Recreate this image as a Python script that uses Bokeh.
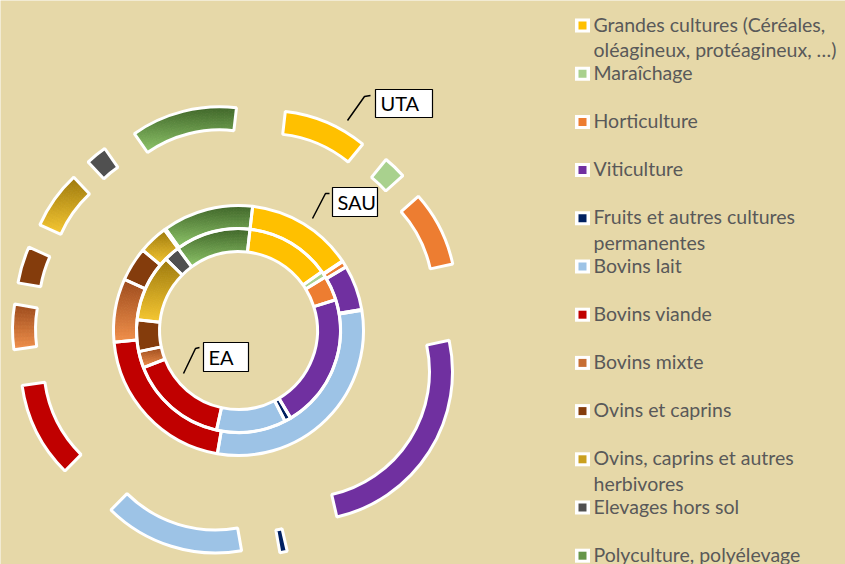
import numpy as np
from bokeh.plotting import figure
from bokeh.models import ColumnDataSource
from bokeh.core.properties import value
from bokeh.embed import file_html
from bokeh.resources import INLINE

# ---------------- data ----------------
categories = [
    "Grandes cultures (Céréales, oléagineux, protéagineux, …)",
    "Maraîchage",
    "Horticulture",
    "Viticulture",
    "Fruits et autres cultures permanentes",
    "Bovins lait",
    "Bovins viande",
    "Bovins mixte",
    "Ovins et caprins",
    "Ovins, caprins et autres herbivores",
    "Elevages hors sol",
    "Polyculture, polyélevage",
]
legend_lines = [
    ["Grandes cultures (Céréales,", "oléagineux, protéagineux, …)"],
    ["Maraîchage"],
    ["Horticulture"],
    ["Viticulture"],
    ["Fruits et autres cultures", "permanentes"],
    ["Bovins lait"],
    ["Bovins viande"],
    ["Bovins mixte"],
    ["Ovins et caprins"],
    ["Ovins, caprins et autres", "herbivores"],
    ["Elevages hors sol"],
    ["Polyculture, polyélevage"],
]
# shares (%), inner ring -> outer ring
ea = [13.4, 1.0, 3.9, 21.3, 1.0, 11.0, 15.6, 2.6, 5.0, 10.7, 2.5, 11.9]
sau = [13.8, 0.1, 0.8, 5.8, 0.1, 30.3, 20.8, 8.2, 4.4, 3.8, 0.2, 11.7]
uta = [9.1, 2.5, 8.2, 24.8, 0.8, 15.2, 10.4, 4.9, 4.0, 6.3, 2.3, 11.5]
ring_names = ["EA", "SAU", "UTA"]

colors = ["#FFC000", "#A9D18E", "#ED7D31", "#7030A0", "#002060", "#9DC3E6",
          "#C00000", "#C8642A", "#843C0C", "#CC9E1C", "#505050", "#5E8F40"]
# vertical gradients (top colour, bottom colour)
gradients = {
    7: ("#9C4A1C", "#F2914C"),
    9: ("#9C780C", "#F7C832"),
    11: ("#3F6629", "#8EC66A"),
}

# ---------------- layout ----------------
W, H = 845, 564
BG = "#E6D8A8"
CX, CY = 238.0, H - 330.0
FIRST_ANGLE = 6.5
ring_geom = [(79, 102, 0.0), (102, 125, 0.0), (126, 149, 77.0)]
label_boxes = [  # ring label boxes in image pixels: left, top, right, bottom
    (203, 342, 248, 371),
    (332, 187, 377, 216),
    (375, 89, 432, 117),
]
label_leaders = [
    [(183, 373), (195, 348), (199, 347)],
    [(312, 218), (325, 193), (329, 193)],
    [(347, 120), (364, 96), (370, 95)],
]


def hex2rgb(h):
    h = h.lstrip("#")
    return np.array([int(h[i:i + 2], 16) for i in (0, 2, 4)], dtype=float)


def lerp_color(c1, c2, t):
    a, b = hex2rgb(c1), hex2rgb(c2)
    c = a + (b - a) * min(max(t, 0.0), 1.0)
    return "#%02x%02x%02x" % tuple(int(round(v)) for v in c)


p = figure(width=W, height=H, x_range=(0, W), y_range=(0, H),
           output_backend="svg", toolbar_location=None,
           x_axis_location=None, y_axis_location=None, min_border=0,
           background_fill_color=BG, border_fill_color=BG,
           outline_line_color=None)
p.grid.visible = False

fill = dict(x=[], y=[], ri=[], ro=[], sa=[], ea=[], c=[])
outl = dict(x=[], y=[], ri=[], ro=[], sa=[], ea=[])

for vals, (r_in, r_out, d) in zip([ea, sau, uta], ring_geom):
    v = np.array(vals, dtype=float)
    cum = np.concatenate([[0], np.cumsum(v / v.sum())])
    for i in range(len(v)):
        t1 = FIRST_ANGLE + 360 * cum[i]
        t2 = FIRST_ANGLE + 360 * cum[i + 1]
        mid = np.radians((t1 + t2) / 2)
        ox = CX + d * np.sin(mid)
        oy = CY + d * np.cos(mid)
        outl["x"].append(ox); outl["y"].append(oy)
        outl["ri"].append(r_in); outl["ro"].append(r_out)
        outl["sa"].append(np.radians(90 - t2)); outl["ea"].append(np.radians(90 - t1))
        if i in gradients:
            top, bot = gradients[i]
            th = np.radians(np.linspace(t1, t2, 60))
            ys = np.concatenate([oy + r_in * np.cos(th), oy + r_out * np.cos(th)])
            ymax, ymin = ys.max(), ys.min()
            na = max(2, int((t2 - t1) / 1.5))
            nr = 8
            ab = np.linspace(t1, t2, na + 1)
            rb = np.linspace(r_in, r_out, nr + 1)
            for j in range(na):
                for k in range(nr):
                    tc = np.radians((ab[j] + ab[j + 1]) / 2)
                    rc = (rb[k] + rb[k + 1]) / 2
                    yc = oy + rc * np.cos(tc)
                    t = (ymax - yc) / (ymax - ymin)
                    fill["x"].append(ox); fill["y"].append(oy)
                    fill["ri"].append(rb[k]); fill["ro"].append(rb[k + 1])
                    fill["sa"].append(np.radians(90 - ab[j + 1]))
                    fill["ea"].append(np.radians(90 - ab[j]))
                    fill["c"].append(lerp_color(top, bot, t))
        else:
            fill["x"].append(ox); fill["y"].append(oy)
            fill["ri"].append(r_in); fill["ro"].append(r_out)
            fill["sa"].append(np.radians(90 - t2)); fill["ea"].append(np.radians(90 - t1))
            fill["c"].append(colors[i])

p.annular_wedge(x="x", y="y", inner_radius="ri", outer_radius="ro",
                start_angle="sa", end_angle="ea", fill_color="c",
                line_color="c", line_width=0.7, source=ColumnDataSource(fill))
p.annular_wedge(x="x", y="y", inner_radius="ri", outer_radius="ro",
                start_angle="sa", end_angle="ea", fill_color=None,
                line_color="white", line_width=3, source=ColumnDataSource(outl))

# ring labels
lb = label_boxes
p.quad(left=[b[0] for b in lb], right=[b[2] for b in lb],
       top=[H - b[1] for b in lb], bottom=[H - b[3] for b in lb],
       fill_color="white", line_color="black", line_width=1.2)
p.text(x=[b[0] + 5 for b in lb], y=[H - (b[1] + b[3]) / 2 + 0.5 for b in lb],
       text=ring_names, text_font=value("Lato"), text_font_size="20px",
       text_color="black", text_baseline="middle", text_align="left")
p.multi_line(xs=[[pt[0] for pt in L] for L in label_leaders],
             ys=[[H - pt[1] for pt in L] for L in label_leaders],
             line_color="black", line_width=1.5)

# legend
LEG_X, LEG_Y0, LEG_DY, LINE_DY = 582, 25.0, 48.2, 25.5
ly = [H - (LEG_Y0 + LEG_DY * i) for i in range(len(categories))]
leg_colors = [lerp_color(*gradients[i], 0.5) if i in gradients else colors[i]
              for i in range(len(categories))]
p.rect(x=[LEG_X] * len(ly), y=ly, width=15, height=14, fill_color="white",
       line_color=None)
p.rect(x=[LEG_X] * len(ly), y=ly, width=8, height=8, fill_color=leg_colors,
       line_color=None)
tx, ty, tt = [], [], []
for i, lines in enumerate(legend_lines):
    for k, s in enumerate(lines):
        tx.append(LEG_X + 11)
        ty.append(ly[i] - k * LINE_DY + 1.5)
        tt.append(s)
p.text(x=tx, y=ty, text=tt, text_font=value("Lato"), text_font_size="19.5px",
       text_color="#595959", text_baseline="middle", text_align="left")

open("out.html", "w").write(file_html(p, INLINE))
